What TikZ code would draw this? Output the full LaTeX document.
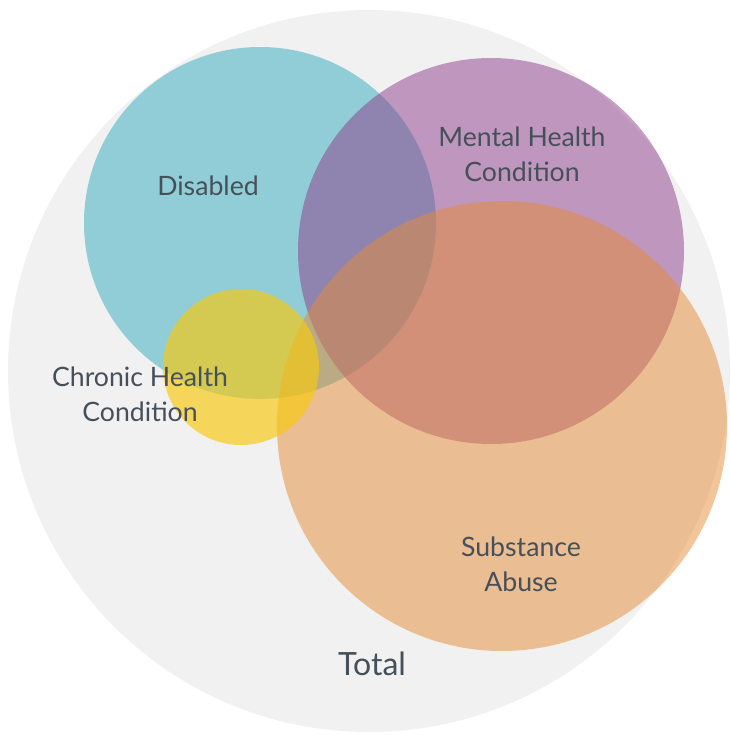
\documentclass[tikz,border=0pt]{standalone}
\usepackage{fontspec}
\setmainfont{Lato}
\usepackage{tikz}
\usetikzlibrary{positioning}
\definecolor{vnTotal}{HTML}{F1F1F1}
\definecolor{vnDis}{HTML}{33ABBF}
\definecolor{vnMen}{HTML}{8F3D8B}
\definecolor{vnSub}{HTML}{E58B35}
\definecolor{vnChr}{HTML}{F7C910}
\definecolor{vnText}{HTML}{46505A}
\tikzset{
  setcirc/.style={circle, draw=none, inner sep=0pt, outer sep=0pt, fill opacity=0.5},
  totalcirc/.style={circle, draw=none, inner sep=0pt, outer sep=0pt, fill=vnTotal},
  setlabel/.style={font=\fontsize{20}{26}\selectfont, text=vnText, align=center, inner sep=0pt},
  totallabel/.style={setlabel, font=\fontsize{24}{28}\selectfont}
}

\begin{document}
\begin{tikzpicture}[x=0.75pt, y=-0.75pt]
  \useasboundingbox (0,0) rectangle (731,735);
  \node[totalcirc, minimum size=541.5pt] (total) at (369,371) {};
  \node[setcirc, fill=vnDis, minimum size=264pt] (disabled) at (260,223) {};
  \node[setcirc, fill=vnMen, minimum size=289.5pt] (mental) at (491,251) {};
  \node[setcirc, fill=vnSub, minimum size=337.5pt] (substance) at (502,426) {};
  \node[setcirc, fill=vnChr, fill opacity=0.67, minimum size=117pt] (chronic) at (241,367) {};
  % labels
  \node[setlabel] (disabledlbl) at (208,186) {Disabled};
  \node[setlabel] (mentallbl) at (522,154) {Mental Health\\Condition};
  \node[setlabel] (chroniclbl) at (140,394) {Chronic Health\\Condition};
  \node[setlabel] (substancelbl) at (521,564) {Substance\\Abuse};
  \node[totallabel] (totallbl) at (372,664) {Total};
\end{tikzpicture}
\end{document}
